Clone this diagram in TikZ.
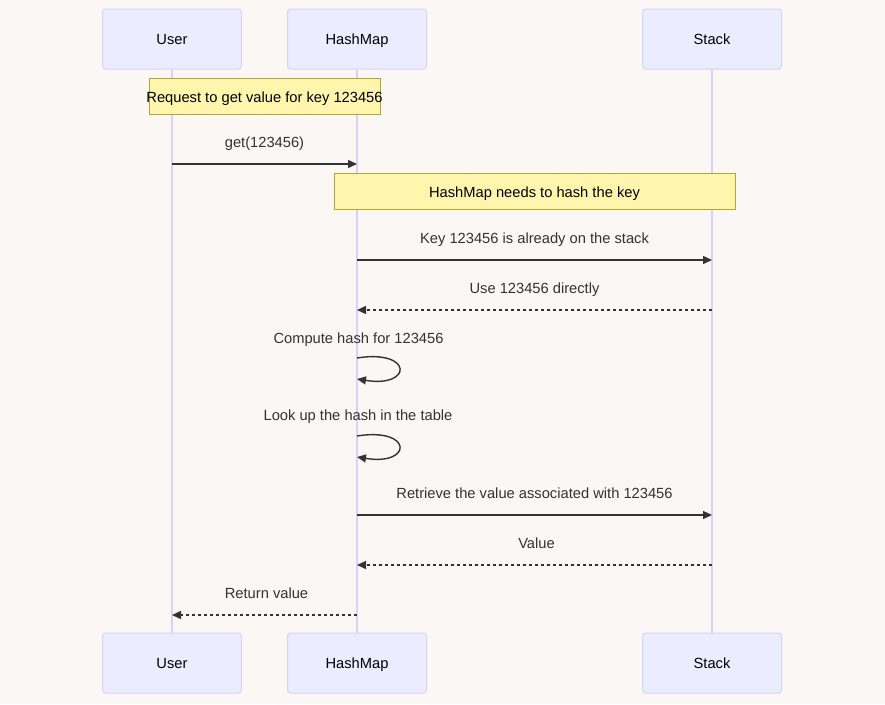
\documentclass[tikz,border=0pt]{standalone}
\usepackage{fontspec}
\setmainfont{Liberation Sans}
\usetikzlibrary{arrows.meta}
\definecolor{bg}{RGB}{250,247,245}
\definecolor{actfill}{RGB}{236,236,255}
\definecolor{actline}{RGB}{218,210,245}
\definecolor{notefill}{RGB}{255,245,173}
\definecolor{noteline}{RGB}{170,170,51}
\definecolor{ink}{RGB}{51,51,51}
\tikzset{
  actor/.style={draw=actline, fill=actfill, line width=1pt, rounded corners=3pt,
    minimum width=139pt, minimum height=60pt, inner sep=0pt,
    text height=10.6pt, text depth=0pt, text=black,
    font=\fontsize{14.7}{17}\selectfont},
  lifeline/.style={draw=actline, line width=1.3pt},
  notebox/.style={draw=noteline, fill=notefill, line width=1pt,
    minimum height=36pt, inner sep=0pt, text height=12pt, text depth=0pt,
    text=black, font=\fontsize{14.7}{17}\selectfont},
  lbl/.style={anchor=base, inner sep=0pt, text=ink, font=\fontsize{14.7}{17}\selectfont},
  msg/.style={draw=ink, line width=1.4pt, -{Triangle[length=9pt,width=8pt]}},
  reply/.style={msg, dash pattern=on 3pt off 3pt},
}
\begin{document}
\begin{tikzpicture}[x=1pt,y=-1pt]
\useasboundingbox (0,0) rectangle (885,704);
\fill[bg] (0,0) rectangle (885,704);

% actors
\node[actor] (ut) at (172,39) {User};
\node[actor] (ht) at (357,39) {HashMap};
\node[actor] (st) at (712,39) {Stack};
\node[actor] (ub) at (172,663) {User};
\node[actor] (hb) at (357,663) {HashMap};
\node[actor] (sb) at (712,663) {Stack};

% lifelines
\draw[lifeline] (ut.south) -- (ub.north);
\draw[lifeline] (ht.south) -- (hb.north);
\draw[lifeline] (st.south) -- (sb.north);

% note 1
\node[notebox, minimum width=231pt] (n1) at (264.5,96) {\makebox[0pt]{Request to get value for key 123456}};

% message 1
\coordinate (u1) at (172,164);
\coordinate (h1) at (357,164);
\node[lbl] (l1) at (264.5,147.5) {get(123456)};
\draw[msg] (u1) -- (h1);

% note 2
\node[notebox, minimum width=401pt] (n2) at (534.5,191) {HashMap needs to hash the key};

% message 2
\coordinate (h2) at (357,260);
\coordinate (s2) at (712,260);
\node[lbl] (l2) at (534.5,243) {Key 123456 is already on the stack};
\draw[msg] (h2) -- (s2);

% message 3
\coordinate (s3) at (712,310);
\coordinate (h3) at (357,310);
\node[lbl] (l3) at (534.5,293) {Use 123456 directly};
\draw[reply] (s3) -- (h3);

% self loop 1
\coordinate (h4a) at (357,358);
\coordinate (h4b) at (357,379);
\node[lbl] (l4) at (358.5,343) {Compute hash for 123456};
\draw[msg] (h4a) .. controls (413,349) and (413,388) .. (h4b);

% self loop 2
\coordinate (h5a) at (357,436);
\coordinate (h5b) at (357,457);
\node[lbl] (l5) at (358,420.5) {Look up the hash in the table};
\draw[msg] (h5a) .. controls (413,427) and (413,466) .. (h5b);

% message 6
\coordinate (h6) at (357,515);
\coordinate (s6) at (712,515);
\node[lbl] (l6) at (534.5,498) {Retrieve the value associated with 123456};
\draw[msg] (h6) -- (s6);

% message 7
\coordinate (s7) at (712,565);
\coordinate (h7) at (357,565);
\node[lbl] (l7) at (536.5,548) {Value};
\draw[reply] (s7) -- (h7);

% message 8
\coordinate (h8) at (357,615);
\coordinate (u8) at (172,615);
\node[lbl] (l8) at (266.5,598) {Return value};
\draw[reply] (h8) -- (u8);
\end{tikzpicture}
\end{document}
